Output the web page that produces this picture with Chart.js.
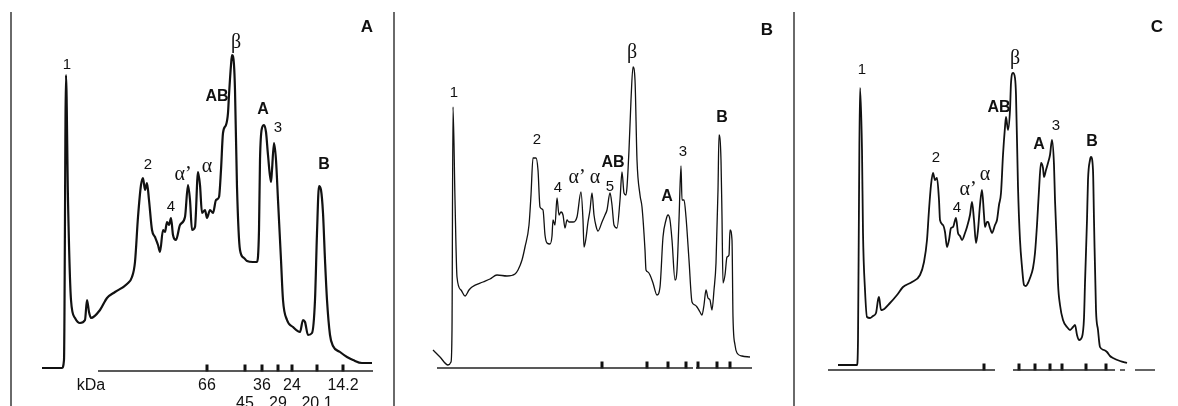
<!DOCTYPE html>
<html>
<head>
<meta charset="utf-8">
<script src="https://cdn.jsdelivr.net/npm/chart.js@4.4.0/dist/chart.umd.min.js"></script>
<style>
  body { margin: 0; background: #fff; }
  #wrap { position: relative; width: 1178px; height: 406px; overflow: hidden; background: #fff; }
  .panel { position: absolute; top: 0; height: 406px; }
  .panel canvas { display: block; }
  .divider { position: absolute; top: 12px; bottom: 0; width: 0; border-left: 2px solid #6a6a6a; }
</style>
</head>
<body>
<div id="wrap">
  <div class="divider" style="left:10px"></div>
  <div class="divider" style="left:393px"></div>
  <div class="divider" style="left:793px"></div>
  <div class="panel" style="left:0;width:394px"><canvas id="chartA" width="394" height="406"></canvas></div>
  <div class="panel" style="left:394px;width:400px"><canvas id="chartB" width="400" height="406"></canvas></div>
  <div class="panel" style="left:794px;width:384px"><canvas id="chartC" width="384" height="406"></canvas></div>
</div>
<script>
// Densitometric scans: x = scan position, y = absorbance (arbitrary units)

// Panel A
const posA = [42, 62, 64, 66, 68, 71, 75, 80, 85, 87, 89, 91, 100, 107, 115, 127, 132, 135, 138, 141,
  143, 145, 147, 149, 152, 155, 158, 160, 163, 165, 167, 169, 171, 173, 176, 180, 185, 188, 190, 192,
  195, 198, 200, 202, 205, 207, 210, 213, 216, 219, 221, 223, 226, 228, 229, 231, 232, 234, 235, 237,
  240, 244, 247, 253, 257, 259, 260, 262, 264, 266, 268, 271, 272, 274, 276, 278, 281, 283, 287, 293,
  300, 303, 305, 308, 312, 315, 317, 319, 321, 323, 325, 327, 330, 333, 340, 347, 353, 362, 372];
const absA = [3, 3, 11, 296, 171, 71, 53, 48, 51, 71, 59, 53, 61, 73, 79, 87, 94, 109, 154, 186,
  193, 181, 188, 171, 141, 134, 126, 119, 141, 139, 149, 146, 153, 136, 131, 146, 154, 186, 171, 141,
  144, 199, 186, 158, 161, 153, 161, 158, 171, 174, 201, 238, 246, 258, 276, 306, 316, 306, 281, 184,
  121, 113, 110, 109, 109, 141, 211, 243, 246, 239, 216, 189, 201, 228, 211, 171, 111, 71, 51, 44,
  39, 51, 49, 36, 38, 71, 138, 185, 181, 158, 111, 71, 36, 25, 19, 14, 11, 8, 8];
const peakNamesA = ['1', '2', '4', 'α’', 'α', 'AB', 'β', 'A', '3', 'B'];
const peakXA = [67, 148, 171, 183, 207, 217, 236, 263, 278, 324];
const peakYA = [306, 206, 164, 196, 204, 274, 328, 261, 243, 206];
const markerXA = [207, 245, 262, 278, 292, 317, 343];
const markerKDa = ['66', '45', '36', '29', '24', '20.1', '14.2'];

// Panel B
const posB = [433, 440, 448, 451, 452, 453, 455, 457, 461, 465, 469, 472, 483, 490, 497, 507, 515, 518, 522, 525,
  529, 531, 533, 536, 538, 540, 543, 545, 547, 550, 552, 553, 555, 557, 559, 561, 563, 565, 567, 569,
  573, 577, 581, 583, 584, 586, 588, 590, 592, 594, 596, 598, 602, 605, 607, 610, 612, 614, 617, 620,
  622, 624, 626, 627, 629, 631, 633, 635, 637, 640, 642, 645, 646, 648, 650, 653, 657, 660, 663, 666,
  668, 670, 672, 675, 677, 679, 681, 682, 684, 686, 689, 692, 695, 697, 700, 702, 704, 706, 708, 710,
  712, 714, 716, 718, 719, 721, 722, 723, 725, 727, 729, 730, 732, 733, 735, 737, 742, 750];
const absB = [21, 14, 6, 9, 41, 264, 171, 94, 81, 75, 81, 84, 89, 92, 96, 95, 97, 101, 111, 124,
  146, 176, 213, 213, 201, 164, 161, 136, 128, 127, 135, 151, 146, 173, 156, 159, 156, 143, 151, 149,
  149, 154, 179, 151, 124, 133, 149, 161, 178, 156, 145, 140, 149, 156, 161, 178, 166, 146, 143, 171,
  199, 178, 176, 184, 221, 271, 304, 291, 211, 176, 164, 121, 101, 99, 96, 88, 76, 84, 134, 151,
  156, 151, 131, 91, 101, 151, 205, 171, 171, 154, 111, 69, 66, 64, 59, 56, 66, 81, 73, 71,
  61, 81, 108, 181, 236, 211, 154, 88, 96, 114, 116, 141, 131, 54, 26, 18, 15, 14];
const peakNamesB = ['1', '2', '4', 'α’', 'α', '5', 'AB', 'β', 'A', '3', 'B'];
const peakXB = [454, 537, 558, 577, 595, 610, 613, 632, 667, 683, 722];
const peakYB = [278, 231, 183, 193, 193, 184, 208, 318, 174, 219, 253];
const markerXB = [602, 647, 668, 686, 698, 717, 730];

// Panel C
const posC = [838, 857, 858, 859, 860, 862, 863, 865, 867, 870, 873, 876, 878, 879, 881, 882, 890, 897, 903, 912,
  920, 924, 927, 929, 931, 933, 935, 937, 939, 940, 943, 945, 947, 949, 951, 953, 956, 958, 960, 962,
  965, 967, 970, 972, 974, 976, 978, 980, 982, 984, 985, 987, 988, 990, 992, 995, 997, 999, 1001, 1003,
  1005, 1006, 1008, 1010, 1011, 1013, 1015, 1016, 1018, 1020, 1022, 1024, 1026, 1028, 1030, 1033, 1035, 1037, 1039, 1041,
  1043, 1044, 1046, 1048, 1050, 1052, 1054, 1055, 1057, 1058, 1060, 1063, 1067, 1070, 1073, 1075, 1077, 1079, 1082, 1084,
  1085, 1087, 1088, 1090, 1091, 1093, 1094, 1096, 1098, 1100, 1104, 1107, 1110, 1113, 1120, 1127];
const absC = [6, 6, 31, 171, 283, 221, 138, 81, 54, 53, 55, 58, 71, 74, 61, 61, 68, 76, 84, 89,
  96, 109, 131, 161, 186, 198, 191, 193, 171, 151, 146, 139, 124, 131, 143, 144, 153, 138, 135, 131,
  138, 144, 156, 169, 151, 128, 141, 166, 181, 156, 144, 149, 149, 143, 138, 146, 151, 166, 178, 216,
  244, 254, 241, 261, 288, 298, 293, 276, 184, 131, 104, 86, 85, 88, 93, 103, 118, 146, 181, 208,
  203, 194, 201, 208, 216, 231, 206, 171, 121, 88, 66, 51, 44, 41, 44, 46, 36, 31, 34, 53,
  88, 151, 191, 211, 214, 201, 151, 61, 41, 24, 21, 19, 15, 13, 10, 8];
const peakNamesC = ['1', '2', '4', 'α’', 'α', 'AB', 'β', 'A', '3', 'B'];
const peakXC = [862, 936, 957, 968, 985, 999, 1015, 1039, 1056, 1092];
const peakYC = [301, 213, 163, 181, 196, 263, 312, 226, 245, 229];
const markerXC = [984, 1019, 1035, 1050, 1062, 1086, 1106];

const SANS = '"Liberation Sans", Arial, sans-serif';
const SERIF = '"Liberation Serif", "DejaVu Serif", serif';

const textPlugin = {
  id: 'panelText',
  afterDatasetsDraw(chart, args, opts) {
    const { ctx, scales: { x, y } } = chart;
    ctx.save();
    ctx.fillStyle = '#111';
    ctx.textAlign = 'center';
    ctx.textBaseline = 'middle';
    opts.items.forEach(it => {
      ctx.font = it.font;
      ctx.fillText(it.text, x.getPixelForValue(it.x), y.getPixelForValue(it.y));
    });
    ctx.restore();
  }
};

function peakFont(n) {
  if (/[αβ]/.test(n)) return '20px ' + SERIF;
  if (/[A-Z]/.test(n)) return 'bold 16px ' + SANS;
  return '15px ' + SANS;
}

function peakItems(names, xs, ys) {
  return names.map((n, i) => ({ text: n, x: xs[i], y: ys[i], font: peakFont(n) }));
}

function makePanel(id, cfg) {
  const datasets = [{
    data: cfg.pos.map((p, i) => ({ x: p, y: cfg.abs[i] })),
    showLine: true,
    borderColor: '#111',
    borderWidth: cfg.lineWidth,
    pointRadius: 0,
    cubicInterpolationMode: 'monotone',
    clip: false
  }];
  // baseline axis, possibly broken into pieces
  cfg.axis.forEach(seg => {
    datasets.push({
      data: [{ x: seg[0], y: cfg.axisLevel }, { x: seg[1], y: cfg.axisLevel }],
      showLine: true,
      borderColor: '#222',
      borderWidth: 1.4,
      pointRadius: 0,
      clip: false
    });
  });
  // molecular weight markers
  datasets.push({
    data: cfg.markers.map(m => ({ x: m, y: cfg.axisLevel + 3 })),
    showLine: false,
    pointStyle: 'line',
    rotation: 90,
    pointRadius: 3.5,
    borderColor: '#111',
    borderWidth: 3,
    clip: false
  });

  new Chart(document.getElementById(id), {
    type: 'scatter',
    data: { datasets: datasets },
    options: {
      responsive: false,
      animation: false,
      events: [],
      layout: { padding: 0, autoPadding: false },
      scales: {
        x: { type: 'linear', min: cfg.xMin, max: cfg.xMax, display: false },
        y: { type: 'linear', min: -35, max: 371, display: false }
      },
      plugins: {
        legend: { display: false },
        tooltip: { enabled: false },
        panelText: { items: cfg.texts }
      }
    },
    plugins: [textPlugin]
  });
}

// text for panel A, including the kDa scale
const textsA = peakItems(peakNamesA, peakXA, peakYA);
textsA.push({ text: 'A', x: 367, y: 344, font: 'bold 17px ' + SANS });
textsA.push({ text: 'kDa', x: 91, y: -15, font: '16px ' + SANS });
markerKDa.forEach((k, i) => {
  textsA.push({ text: k, x: markerXA[i], y: i % 2 === 0 ? -15 : -33, font: '16px ' + SANS });
});

const textsB = peakItems(peakNamesB, peakXB, peakYB);
textsB.push({ text: 'B', x: 767, y: 341, font: 'bold 17px ' + SANS });

const textsC = peakItems(peakNamesC, peakXC, peakYC);
textsC.push({ text: 'C', x: 1157, y: 344, font: 'bold 17px ' + SANS });

makePanel('chartA', {
  pos: posA, abs: absA, lineWidth: 2.2,
  xMin: 0, xMax: 394,
  axis: [[98, 373]], axisLevel: 0,
  markers: markerXA, texts: textsA
});
makePanel('chartB', {
  pos: posB, abs: absB, lineWidth: 1.3,
  xMin: 394, xMax: 794,
  axis: [[437, 693], [696, 752]], axisLevel: 3,
  markers: markerXB, texts: textsB
});
makePanel('chartC', {
  pos: posC, abs: absC, lineWidth: 1.8,
  xMin: 794, xMax: 1178,
  axis: [[828, 995], [1013, 1115], [1120, 1125], [1135, 1155]], axisLevel: 1,
  markers: markerXC, texts: textsC
});
</script>
</body>
</html>
